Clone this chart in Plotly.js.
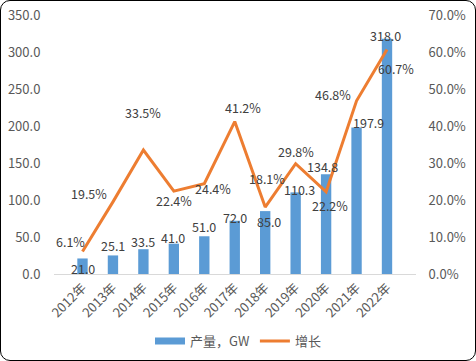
<!DOCTYPE html>
<html>
<head>
<meta charset="utf-8">
<script src="https://cdn.plot.ly/plotly-3.0.1.min.js"></script>
<style>
  html, body { margin: 0; padding: 0; background: #fff; }
  #wrap { position: relative; width: 476px; height: 361px; }
  #chart { width: 476px; height: 361px; }
  #frame { position: absolute; left: 0; top: 0; width: 476px; height: 361px; box-sizing: border-box;
           border: 1.5px solid #000; border-radius: 10px; pointer-events: none; }
</style>
</head>
<body>
<div id="wrap"><div id="chart"></div><div id="frame"></div></div>
<script>
// ---- data ----
const years = ['2012年','2013年','2014年','2015年','2016年','2017年','2018年','2019年','2020年','2021年','2022年'];
const output = [21.0, 25.1, 33.5, 41.0, 51.0, 72.0, 85.0, 110.3, 134.8, 197.9, 318.0];
const growth = [6.1, 19.5, 33.5, 22.4, 24.4, 41.2, 18.1, 29.8, 22.2, 46.8, 60.7];
const barName = '产量，GW';
const lineName = '增长';

// ---- label offsets (pixels) ----
const barDx = [0, 0, 0, -1, 0, 0, 4, 4, -4, 12, -2];
const barDy = [-10, 10, 8, 6, 10, 3, -10, 3, 8, 5, 3];
const lineDx = [-12, -24, 0, 0, 9, 8, 2, 0, 4, -24, 9];
const lineDy = [10, 8, 38, -9, -5, 14, 29, 12, -14, 6, -19];

const font = 'Noto Sans CJK SC, Noto Sans, sans-serif';
const labelColor = '#404040';
const blue = '#5B9BD5', orange = '#ED7D31';

const annotations = [];
years.forEach((c, i) => {
  annotations.push({x: c, y: output[i], xref: 'x', yref: 'y', text: output[i].toFixed(1),
    showarrow: false, xshift: barDx[i], yshift: barDy[i], yanchor: 'middle',
    font: {family: font, size: 12.5, color: labelColor}});
  annotations.push({x: c, y: growth[i], xref: 'x', yref: 'y2', text: growth[i].toFixed(1) + '%',
    showarrow: false, xshift: lineDx[i], yshift: lineDy[i], yanchor: 'middle',
    font: {family: font, size: 12.5, color: labelColor}});
});

const traces = [
  {type: 'bar', x: years, y: output, name: barName, marker: {color: blue}, yaxis: 'y',
   showlegend: false, legendgroup: 'bar'},
  // legend entry for the bars (wide swatch as in the reference)
  {type: 'scatter', mode: 'lines', x: [null], y: [null], name: barName, yaxis: 'y',
   line: {color: blue, width: 7}, legendgroup: 'bar', hoverinfo: 'skip'},
  {type: 'scatter', mode: 'lines', x: years, y: growth, name: lineName, yaxis: 'y2',
   line: {color: orange, width: 3}}
];

const layout = {
  width: 476, height: 361,
  margin: {l: 54, r: 60, t: 15, b: 87},
  paper_bgcolor: '#fff', plot_bgcolor: '#fff',
  font: {family: font, size: 13, color: '#595959'},
  bargap: 0.66,
  showlegend: true,
  legend: {orientation: 'h', x: 0.5, xanchor: 'center', xref: 'container',
           y: 0.055, yanchor: 'middle', yref: 'container', itemwidth: 30,
           font: {family: font, size: 13, color: '#595959'}, traceorder: 'normal'},
  xaxis: {type: 'category', showline: true, linecolor: '#D9D9D9', linewidth: 1,
          ticks: '', tickangle: -45, showgrid: false, zeroline: false,
          tickfont: {family: font, size: 13, color: '#595959'}},
  yaxis: {range: [0, 350], dtick: 50, tickformat: '.1f', showgrid: false, zeroline: false,
          showline: false, ticks: 'outside', ticklen: 10, tickcolor: 'rgba(0,0,0,0)',
          tickfont: {family: font, size: 13, color: '#595959'}},
  yaxis2: {range: [0, 70], dtick: 10, tickformat: '.1f', ticksuffix: '%', overlaying: 'y',
           side: 'right', showgrid: false, zeroline: false, showline: false,
           ticks: 'outside', ticklen: 9, tickcolor: 'rgba(0,0,0,0)',
           tickfont: {family: font, size: 13, color: '#595959'}},
  annotations: annotations
};

Plotly.newPlot('chart', traces, layout, {displayModeBar: false, responsive: false});
</script>
</body>
</html>
